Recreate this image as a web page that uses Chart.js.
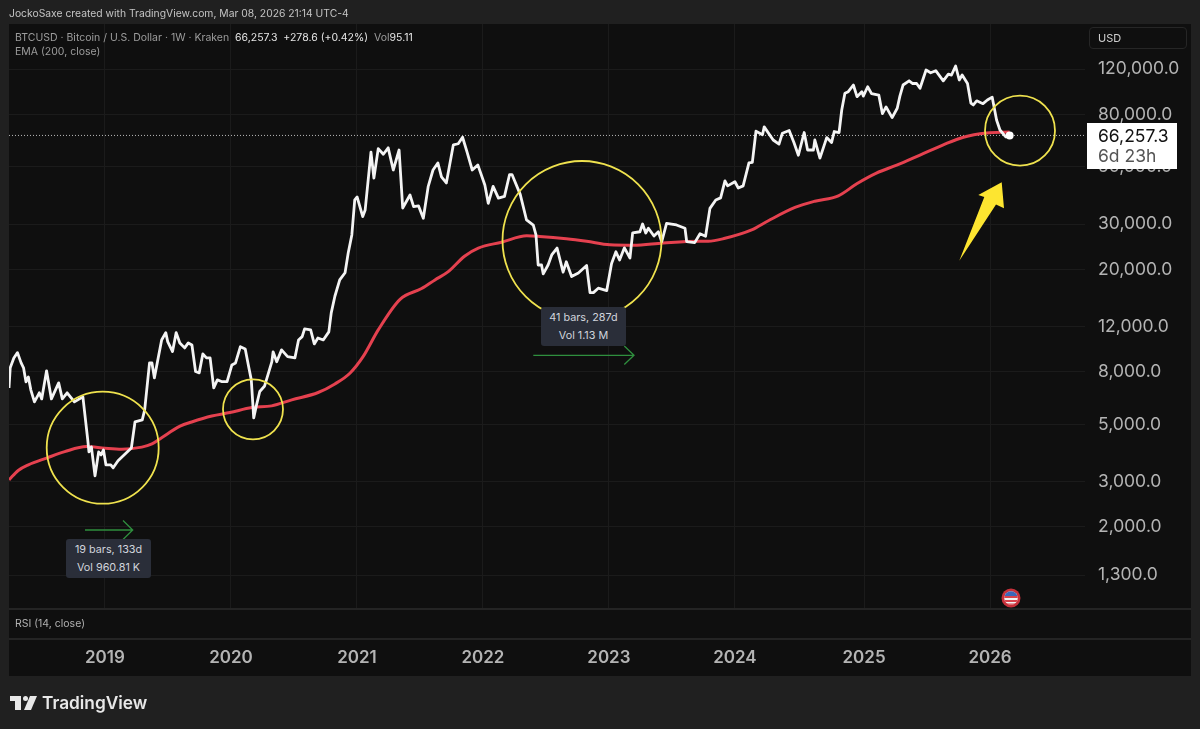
<!DOCTYPE html>
<html>
<head>
<meta charset="utf-8">
<title>BTCUSD 1W</title>
<script src="https://cdn.jsdelivr.net/npm/chart.js@4"></script>
<style>
  html, body { margin: 0; padding: 0; background: #202020; }
  #wrap { position: relative; width: 1200px; height: 729px; overflow: hidden; font-family: Inter, "Noto Sans", sans-serif; }
  #panel { position: absolute; left: 9px; top: 24px; width: 1182px; height: 652px; background: #0f0f0f; }
  canvas { position: absolute; left: 0; top: 0; }
  .txt { position: absolute; white-space: nowrap; }
  .legend { font-size: 10.5px; color: #9c9c9c; line-height: 14px; }
  .legend b { font-weight: 400; color: #e6e6e6; }
  .tip { position: absolute; background: #2a2e39; border-radius: 3px; color: #d1d4dc; font-size: 10.8px; text-align: center; line-height: 18px; padding-top: 2px; }
  #lastbox { position: absolute; left: 1087px; top: 123px; width: 90px; height: 46px; background: #fff; }
  #usd { position: absolute; left: 1089px; top: 27px; width: 98px; height: 22px; border: 1px solid #262626; border-radius: 4px; box-sizing: border-box; color: #d0d0d0; font-size: 11px; line-height: 20px; padding-left: 8px; }
</style>
</head>
<body>
<div id="wrap">
  <div id="panel"></div>
  <canvas id="grafico" width="1200" height="729"></canvas>

  <div class="txt" style="left:9px;top:6px;font-size:10.35px;color:#c4c4c4;line-height:15px">JockoSaxe created with TradingView.com, Mar 08, 2026 21:14 UTC-4</div>
  <div class="txt legend" style="left:15px;top:31px">BTCUSD · Bitcoin / U.S. Dollar · 1W · Kraken&nbsp; <b>66,257.3&nbsp; +278.6 (+0.42%)</b>&nbsp; Vol<b>95.11</b></div>
  <div class="txt legend" style="left:15px;top:45px">EMA (200, close)</div>
  <div class="txt legend" style="left:15px;top:617px;color:#b0b0b0">RSI (14, close)</div>
  <div id="usd">USD</div>

  <div id="lastbox">
    <div class="txt" style="left:11px;top:2px;font-size:17.5px;line-height:22px;color:#111">66,257.3</div>
    <div class="txt" style="left:11px;top:22px;font-size:17.5px;line-height:22px;color:#555">6d 23h</div>
  </div>

  <div class="tip" style="left:66px;top:539px;width:85px;height:37px">19 bars, 133d<br>Vol 960.81 K</div>
  <div class="tip" style="left:541px;top:307px;width:85px;height:37px">41 bars, 287d<br>Vol 1.13 M</div>

  <svg style="position:absolute;left:10px;top:695px" width="27" height="16" viewBox="0 0 27 16">
    <path d="M0 1h11v14H5V6H0z" fill="#e8e8e8"/>
    <circle cx="15.5" cy="3.5" r="2.5" fill="#e8e8e8"/>
    <path d="M20 1h7l-6 14h-7z" fill="#e8e8e8"/>
  </svg>
  <div class="txt" style="left:42px;top:692px;font-size:17.3px;font-weight:600;line-height:22px;color:#e8e8e8">TradingView</div>
</div>

<script>
// semanas desde el inicio del grafico (velas de 1W)
const bars = [0,0.5,2,3.5,5,6,7,8,9,10.5,12.5,13.5,15.5,17.5,20.5,22,24,27,30.5,32.5,33,34,35.5,37,38,39,40,42,43,45,50.5,52,55,56,58,59,60,63,64.7,65.5,67.5,69,70.5,72.5,74,75.5,77,78.5,80,81.5,83,84.5,86,87.7,90,92,93.5,95.5,97.5,99,100,101,102,103.5,105.5,108.5,109,110.5,112.5,115,118,119.5,121,122,124.5,126,127.5,129.7,132,133,134.5,136.5,138.7,140,141.5,142.7,143.7,146,147,149.4,150.6,152.4,154.5,156.5,158.6,161,162.5,165.5,167,169,171,173,175,177,178.5,180.5,183.4,185.4,187.2,189,191.2,193.5,196.4,197.8,199.8,202,204.5,206.6,207.6,211,213.6,216.4,217.5,218.4,219.8,220.5,222.5,224,226.2,228.7,230,232.2,235,238.4,239.8,241.2,243.2,246.7,248.7,250.5,252,254,256.3,257.4,260.4,261.5,262.8,263.9,266.2,268,269.4,271.4,275.5,279,279.7,283,285.2,287.5,289.3,291.7,293.7,295.5,296.6,299.6,301,303,305.4,306.8,308.3,311,311.7,315.4,317.8,319.2,322,324,325.8,328.2,329.6,332,332.6,334.7,337.5,339.5,340.6,342.6,343.7,345,346.4,348.5,350,352,352.6,354.4,356,359,360.5,362,364.5,366.6,367.7,369,371.5,373,374.6,376,378.5,380.4,382.5,385.6,387.7,389,390.7,392.2,393.4,395.6,397,398,399.4,402,403.8,405.8,407.6,409,411.4,413];
const closes = [6930,8290,9060,9500,8665,8290,7313,7646,6810,6115,6630,6280,8070,6280,7250,6280,6630,6115,6395,4355,3910,4090,3156,3910,3806,3980,3481,3481,3391,3610,4050,5110,5205,5695,8665,8665,7580,10640,11360,10480,9590,11360,10360,9910,10360,10170,8020,7925,9390,9060,9060,6930,7445,7335,7335,8510,8665,10020,9820,8290,7445,5300,5860,6710,7050,8760,9570,8760,9735,9160,9060,10640,10960,11750,11640,10270,10830,10640,11440,13550,15730,18200,19400,23150,27200,37200,38200,32060,34020,57100,45250,58900,56000,59300,48640,58160,34630,38900,35050,35300,31600,41900,48640,51800,45700,43300,60900,61500,65200,57300,48640,50900,42500,36100,42000,37800,38400,46700,46700,39100,31110,29700,27200,20800,20800,19200,20800,22750,24200,19500,21400,18750,19350,20700,16250,16250,16900,16550,21100,23400,21760,24250,22150,27700,28000,30000,27700,28900,26950,28000,25600,30200,29750,28900,25650,25400,27500,26900,34500,37200,37900,44100,42200,43800,41400,42200,51800,52100,68800,66700,71500,63600,61300,67600,69200,62100,55500,68000,58160,58160,63600,54100,65000,62150,68600,68000,83170,96600,98000,104000,93700,98000,94200,102400,96300,95000,80500,85500,77700,84500,94200,104000,108000,105400,105400,101000,118900,116000,118200,108000,114700,113700,123300,108750,113700,105400,88500,87000,90300,88000,90950,93300,76060,69550,65400,66257.3];

const emaBars = [0,3.8,8,15.5,23,32,39.6,46.5,54.8,59,63,70.6,75.4,83.7,91.2,100.2,108.4,116.7,127.6,134.5,140.7,146.2,152.4,161.4,170.3,175.8,181.3,188,193.7,203.3,213.7,219,230,238.4,248,257.7,270,284.5,288.6,295.5,306.5,313.4,324.4,332.6,342.3,349.9,358,366.4,376,385.6,393.9,403.5,413];
const ema = [3045,3310,3481,3700,3920,4100,4040,4005,4080,4200,4440,4920,5110,5390,5560,5810,5900,6225,6650,7180,7900,9180,11640,15300,16850,18200,19600,22500,24200,25500,27000,26850,26300,25700,24900,24800,25300,25700,25700,26400,28450,30900,34800,36800,38600,43000,47300,50800,55600,60900,65200,67700,68300];

const lastPrice = 66257.3;
const yearBars = [39.6,91.6,143.6,195.6,247.6,299.6,352.9,404.9];
const yearLabels = ["2019","2020","2021","2022","2023","2024","2025","2026"];
const priceTicks = [120000,80000,50000,30000,20000,12000,8000,5000,3000,2000,1300];

const circulos = [
  {x:102.7, y:447.7, r:56},
  {x:253, y:409.3, r:30},
  {x:582, y:240.5, r:79.5},
  {x:1020, y:130.7, r:35}
];

const dibujos = {
  id: "dibujos",
  beforeDraw(chart) {
    const c = chart.ctx;
    c.save();
    c.fillStyle = "#242424";
    c.fillRect(9, 608, 1182, 2);
    c.fillRect(9, 638, 1182, 2);
    c.restore();
  },
  afterDatasetsDraw(chart) {
    const c = chart.ctx;
    c.save();

    // circulos amarillos
    c.strokeStyle = "#efe24e";
    c.lineWidth = 1.8;
    circulos.forEach(k => {
      c.beginPath();
      c.arc(k.x, k.y, k.r, 0, Math.PI * 2);
      c.stroke();
    });

    // flechas verdes de los rangos
    c.strokeStyle = "#2f8f3e";
    c.lineWidth = 1.3;
    c.beginPath();
    c.moveTo(85, 530); c.lineTo(132.7, 530);
    c.moveTo(123, 520.5); c.lineTo(132.7, 530); c.lineTo(123, 539.5);
    c.moveTo(533.3, 355.3); c.lineTo(634, 355.3);
    c.moveTo(624.3, 346); c.lineTo(634, 355.3); c.lineTo(624.3, 364.5);
    c.stroke();

    // flecha amarilla grande
    c.fillStyle = "#fde530";
    c.beginPath();
    c.moveTo(1001.7, 182.3);
    c.lineTo(1004, 208.3);
    c.lineTo(996, 204.5);
    c.lineTo(959.3, 260.7);
    c.lineTo(984.3, 197);
    c.lineTo(978.3, 195);
    c.closePath();
    c.fill();

    // icono de la bandera
    c.fillStyle = "#c7313b";
    c.beginPath(); c.arc(1011, 598, 9.5, 0, Math.PI * 2); c.fill();
    c.save();
    c.beginPath(); c.arc(1011, 598, 6.8, 0, Math.PI * 2); c.clip();
    c.fillStyle = "#f2f2f2"; c.fillRect(1004, 591, 14, 14);
    c.fillStyle = "#d8434d"; c.fillRect(1004, 596, 14, 2); c.fillRect(1004, 600, 14, 2); c.fillRect(1004, 603.5, 14, 2);
    c.fillStyle = "#3c66b8"; c.fillRect(1004, 591, 14, 5);
    c.restore();

    c.restore();
  }
};

new Chart(document.getElementById("grafico"), {
  type: "line",
  data: {
    datasets: [
      {
        label: "BTCUSD",
        data: bars.map((b, i) => ({x: b, y: closes[i]})),
        borderColor: "#f4f4f4",
        borderWidth: 2.8,
        tension: 0,
        borderJoinStyle: "round",
        pointRadius: ctx => ctx.dataIndex === bars.length - 1 ? 4 : 0,
        pointBackgroundColor: "#ffffff",
        pointBorderWidth: 0,
        order: 1
      },
      {
        label: "EMA (200, close)",
        data: emaBars.map((b, i) => ({x: b, y: ema[i]})),
        borderColor: "#e5414f",
        borderWidth: 3,
        cubicInterpolationMode: "monotone",
        pointRadius: 0,
        order: 2
      },
      {
        label: "Last",
        data: [{x: 0, y: lastPrice}, {x: 444.1, y: lastPrice}],
        borderColor: "#b8b8b8",
        borderWidth: 1,
        borderDash: [1, 2],
        pointRadius: 0,
        order: 3
      }
    ]
  },
  options: {
    responsive: false,
    animation: false,
    events: [],
    layout: {padding: {left: 9, top: 24, right: 0, bottom: 53}},
    plugins: {legend: {display: false}, tooltip: {enabled: false}},
    scales: {
      x: {
        type: "linear",
        min: 0,
        max: 444.1,
        afterBuildTicks: s => { s.ticks = yearBars.map(v => ({value: v})); },
        afterFit: s => { s.height = 68; },
        border: {display: false},
        grid: {color: "#1b1b1b", lineWidth: 1, drawTicks: false},
        ticks: {
          autoSkip: false,
          maxRotation: 0,
          padding: 40,
          color: "#b4b4b4",
          font: {family: "Inter", size: 17, weight: "600"},
          callback: (v, i) => yearLabels[i]
        }
      },
      y: {
        type: "logarithmic",
        position: "right",
        bounds: "data",
        min: 968,
        max: 179470,
        afterBuildTicks: s => { s.ticks = priceTicks.map(v => ({value: v})); },
        afterFit: s => { s.width = 115; },
        border: {display: false},
        grid: {color: "#1b1b1b", lineWidth: 1, drawTicks: false},
        ticks: {
          autoSkip: false,
          padding: 13,
          color: "#b4b4b4",
          font: {family: "Inter", size: 17.5},
          callback: v => v.toLocaleString("en-US", {minimumFractionDigits: 1, maximumFractionDigits: 1})
        }
      }
    }
  },
  plugins: [dibujos]
});
</script>
</body>
</html>
